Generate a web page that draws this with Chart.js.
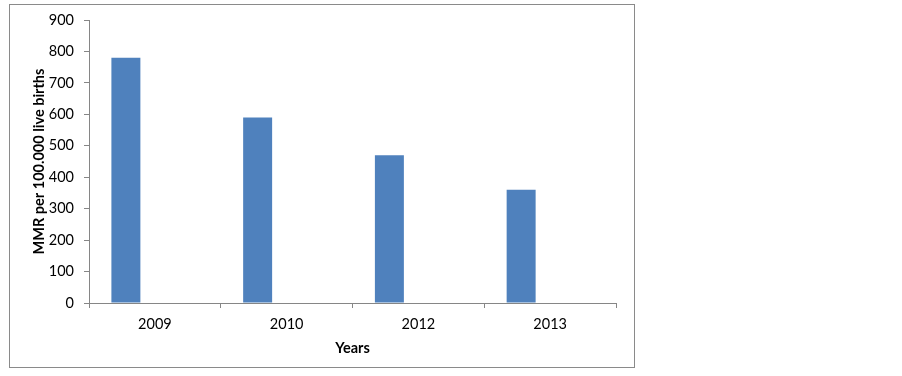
<!DOCTYPE html>
<html>
<head>
<meta charset="utf-8">
<title>MMR per 100.000 live births</title>
<script src="https://cdn.jsdelivr.net/npm/chart.js@4.4.1/dist/chart.umd.min.js"></script>
<style>
    html, body { margin: 0; padding: 0; background: #ffffff; }
    #wrap { position: relative; width: 902px; height: 376px; }
</style>
</head>
<body>
<div id="wrap"><canvas id="chart" width="902" height="376"></canvas></div>
<script>
// Chart data
const years = ["2009", "2010", "2012", "2013"];
const mmrValues = [780, 590, 470, 360];
// The source sheet has two more series with no values, which is why the bars sit left in each slot
const emptySeriesA = [null, null, null, null];
const emptySeriesB = [null, null, null, null];
const yTicksMin = 0;
const yTicksMax = 900;
const yTicksStep = 100;

const AXIS_COLOR = "#868686";
const FONT_FAMILY = "Lato, 'Liberation Sans', sans-serif";

/**
 * Draws the grey frame round the whole chart object.
 */
const framePlugin = {
    id: "frame",
    beforeDraw(chart) {
        const ctx = chart.ctx;
        ctx.save();
        ctx.strokeStyle = "#8a8a8a";
        ctx.lineWidth = 1;
        ctx.strokeRect(9.5, 4.5, 625, 363);
        ctx.restore();
    }
};

new Chart(document.getElementById("chart"), {
    type: "bar",
    data: {
        labels: years,
        datasets: [
            { label: "MMR", data: mmrValues, backgroundColor: "#4f81bd" },
            { label: "Series 2", data: emptySeriesA, backgroundColor: "#c0504d" },
            { label: "Series 3", data: emptySeriesB, backgroundColor: "#9bbb59" },
        ],
    },
    options: {
        responsive: false,
        animation: false,
        events: [],
        categoryPercentage: 0.66,
        barPercentage: 1.0,
        layout: {
            padding: { left: 9, top: 20, right: 286, bottom: 8 },
        },
        plugins: {
            legend: { display: false },
            tooltip: { enabled: false },
        },
        scales: {
            x: {
                grid: {
                    drawOnChartArea: false,
                    tickLength: 5,
                    color: AXIS_COLOR,
                },
                border: { color: AXIS_COLOR },
                ticks: {
                    color: "#000000",
                    padding: 8,
                    font: { family: FONT_FAMILY, size: 14.5 },
                },
                title: {
                    display: true,
                    text: "Years",
                    color: "#000000",
                    padding: { top: 0, bottom: 11.3 },
                    font: { family: FONT_FAMILY, size: 14.5, weight: "bold" },
                },
                afterFit(scale) {
                    scale.height = 65;
                },
            },
            y: {
                min: yTicksMin,
                max: yTicksMax,
                grid: {
                    drawOnChartArea: false,
                    tickLength: 5,
                    color: AXIS_COLOR,
                },
                border: { color: AXIS_COLOR },
                ticks: {
                    stepSize: yTicksStep,
                    color: "#000000",
                    padding: 10,
                    font: { family: FONT_FAMILY, size: 14.5 },
                },
                title: {
                    display: true,
                    text: "MMR per 100.000 live births",
                    color: "#000000",
                    padding: { top: 21.8, bottom: 0 },
                    font: { family: FONT_FAMILY, size: 14.5, weight: "bold" },
                },
                afterFit(scale) {
                    scale.width = 80;
                },
            },
        },
    },
    plugins: [framePlugin],
});
</script>
</body>
</html>
